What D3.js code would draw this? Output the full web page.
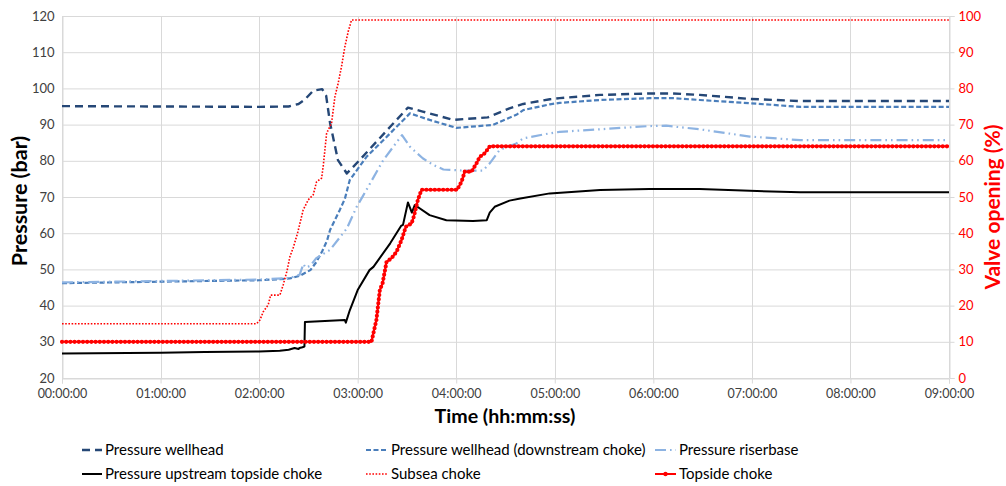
<!DOCTYPE html>
<html><head><meta charset="utf-8">
<script src="https://cdn.jsdelivr.net/npm/d3@7"></script>
<style>
body{margin:0;background:#fff;}
svg{display:block;font-family:Lato,"Liberation Sans",sans-serif;}
</style></head><body>
<svg id="c" width="1006" height="486"></svg>
<script>
// ---------- data (time in hours, pressure in bar, valve opening in %) ----------
const xTickValues = [0,1,2,3,4,5,6,7,8,9];
const xTickLabels = ["00:00:00","01:00:00","02:00:00","03:00:00","04:00:00","05:00:00","06:00:00","07:00:00","08:00:00","09:00:00"];
const leftTicks = [20,30,40,50,60,70,80,90,100,110,120];
const rightTicks = [0,10,20,30,40,50,60,70,80,90,100];

const pressureWellhead = [[0,95.1],[1,95.0],[2,94.9],[2.30,95.0],[2.40,95.7],[2.46,96.8],[2.55,99.4],[2.64,99.8],[2.68,98.0],[2.72,90.4],[2.80,80.2],[2.89,76.5],[3.02,80.2],[3.33,89.4],[3.51,94.7],[3.66,93.6],[3.97,91.3],[4.32,92.0],[4.54,94.5],[4.68,95.7],[4.95,97.0],[5.05,97.3],[5.46,98.2],[5.96,98.6],[6.20,98.6],[6.47,98.2],[6.98,97.1],[7.49,96.5],[9,96.5]];
const pressureWellheadDown = [[0,46.2],[1,46.6],[1.45,46.8],[2.0,47.0],[2.21,47.3],[2.31,47.5],[2.41,48.2],[2.52,49.8],[2.58,52.0],[2.64,55.0],[2.69,58.0],[2.72,60.9],[2.82,66.5],[2.87,69.5],[2.92,74.7],[3.09,81.1],[3.33,87.6],[3.53,93.1],[3.73,91.3],[4.00,89.1],[4.37,89.9],[4.61,92.7],[4.68,94.0],[4.95,95.6],[5.05,96.0],[5.46,96.8],[5.96,97.3],[6.20,97.3],[6.47,96.8],[6.98,95.9],[7.49,94.9],[9,94.9]];
const pressureRiserbase = [[0,46.4],[1,46.8],[2.0,47.2],[2.31,47.6],[2.41,48.5],[2.45,51.5],[2.47,50.5],[2.52,51.0],[2.58,53.1],[2.72,55.4],[2.89,61.3],[2.99,67.3],[3.05,70.1],[3.26,80.2],[3.45,87.1],[3.53,83.9],[3.66,80.7],[3.77,78.8],[3.87,77.6],[4.07,77.3],[4.27,77.3],[4.34,79.3],[4.44,83.0],[4.61,84.8],[4.68,86.2],[4.95,87.6],[5.05,88.0],[5.46,88.7],[5.96,89.6],[6.13,89.7],[6.47,88.7],[6.98,86.7],[7.49,85.7],[9,85.7]];
const pressureUpstreamTopside = [[0,26.8],[1,27.0],[1.45,27.2],[2.0,27.3],[2.21,27.5],[2.30,27.8],[2.36,28.3],[2.40,28.0],[2.41,28.3],[2.44,28.5],[2.46,28.7],[2.465,35.5],[2.87,36.0],[2.88,35.3],[2.92,38.7],[3.00,44.3],[3.12,49.8],[3.16,50.7],[3.33,57.2],[3.44,62.0],[3.46,62.3],[3.51,68.5],[3.55,65.7],[3.58,67.8],[3.73,65.0],[3.90,63.6],[4.17,63.4],[4.31,63.6],[4.34,65.7],[4.39,67.3],[4.54,69.0],[4.65,69.6],[4.95,71.0],[5.46,71.9],[5.96,72.2],[6.47,72.2],[6.98,71.7],[7.49,71.3],[9,71.3]];
const subseaChoke = [[0,15],[1.975,15],[2.008,16],[2.042,18.3],[2.092,20.2],[2.117,22.9],[2.211,22.9],[2.244,25.7],[2.285,29.8],[2.312,33.5],[2.346,36.0],[2.39,40.0],[2.447,46.4],[2.498,49.2],[2.549,50.6],[2.583,54.2],[2.634,55.2],[2.65,58.4],[2.685,67.6],[2.735,70.4],[2.769,77.7],[2.802,81.4],[2.836,86.0],[2.87,91.5],[2.904,95.7],[2.938,98.9],[9,98.9]];
const topsideChoke = [[0,10],[3.14,10],[3.19,16],[3.225,24.3],[3.253,26.2],[3.293,32.1],[3.344,33.1],[3.395,34.9],[3.445,38.1],[3.489,41.8],[3.547,42.7],[3.57,44.6],[3.611,49.2],[3.648,52],[4.009,52],[4.054,54.2],[4.087,57.0],[4.155,57.0],[4.206,59.3],[4.239,61.1],[4.29,62.1],[4.341,64],[9,64]];

const seriesNames = ["Pressure wellhead","Pressure wellhead (downstream choke)","Pressure riserbase","Pressure upstream topside choke","Subsea choke","Topside choke"];

// ---------- chart ----------
const svg = d3.select("#c");
const L = 62, R = 949, T = 16, B = 378;
const x = d3.scaleLinear().domain([0,9]).range([L,R]);
const yL = d3.scaleLinear().domain([20,120]).range([B,T]);
const yR = d3.scaleLinear().domain([0,100]).range([B,T]);
const grid = "#d9d9d9";

// grid
svg.append("g").selectAll("line").data(leftTicks).join("line")
  .attr("x1",L).attr("x2",R).attr("y1",d=>yL(d)+0.5).attr("y2",d=>yL(d)+0.5)
  .attr("stroke",grid).attr("stroke-width",1);
svg.append("g").selectAll("line").data(xTickValues).join("line")
  .attr("x1",d=>Math.round(x(d))+0.5).attr("x2",d=>Math.round(x(d))+0.5).attr("y1",T).attr("y2",B)
  .attr("stroke",grid).attr("stroke-width",1);

// axes
const ax = d3.axisBottom(x).tickValues(xTickValues).tickFormat((d,i)=>xTickLabels[i]).tickSize(5).tickPadding(6);
const gx = svg.append("g").attr("transform",`translate(0,${B+0.5})`).call(ax);
gx.select(".domain").attr("stroke",grid);
gx.selectAll(".tick line").attr("stroke",grid);
gx.selectAll("text").attr("font-size",12.5).attr("fill","#404040").attr("font-family","Lato");

const ayl = d3.axisLeft(yL).tickValues(leftTicks).tickSize(0).tickPadding(8);
const gyl = svg.append("g").attr("transform",`translate(${L+0.5},0)`).call(ayl);
gyl.select(".domain").attr("stroke",grid);
gyl.selectAll("text").attr("font-size",13).attr("fill","#404040").attr("font-family","Lato");

const ayr = d3.axisRight(yR).tickValues(rightTicks).tickSize(5).tickPadding(4);
const gyr = svg.append("g").attr("transform",`translate(${R+0.5},0)`).call(ayr);
gyr.select(".domain").attr("stroke",grid);
gyr.selectAll(".tick line").attr("stroke",grid);
gyr.selectAll("text").attr("font-size",13).attr("fill","#ff0000").attr("font-family","Lato");

// titles
svg.append("text").attr("x",505).attr("y",423).attr("text-anchor","middle")
  .attr("font-size",19.6).attr("font-weight","bold").attr("fill","#000").text("Time (hh:mm:ss)");
svg.append("text").attr("transform","translate(27,201) rotate(-90)").attr("text-anchor","middle")
  .attr("font-size",21.5).attr("font-weight","bold").attr("fill","#000").text("Pressure (bar)");
svg.append("text").attr("transform","translate(1000,207) rotate(-90)").attr("text-anchor","middle")
  .attr("font-size",21).attr("font-weight","bold").attr("fill","#ff0000").text("Valve opening (%)");

// series
const lineL = d3.line().x(d=>x(d[0])).y(d=>yL(d[1]));
const lineR = d3.line().x(d=>x(d[0])).y(d=>yR(d[1]));
const styles = [
  {data:pressureWellhead, line:lineL, color:"#254776", w:2.4, dash:"8 5"},
  {data:pressureWellheadDown, line:lineL, color:"#4a7ebb", w:2.2, dash:"5 2.5"},
  {data:pressureRiserbase, line:lineL, color:"#8db3e2", w:2.2, dash:"11 4 1.6 4 1.6 4"},
  {data:pressureUpstreamTopside, line:lineL, color:"#000000", w:2, dash:null},
  {data:subseaChoke, line:lineR, color:"#ff0000", w:1.6, dash:"1.6 1.6"},
  {data:topsideChoke, line:lineR, color:"#ff0000", w:2, dash:null, beads:true}
];
styles.forEach(s=>{
  svg.append("path").attr("d",s.line(s.data)).attr("fill","none")
    .attr("stroke",s.color).attr("stroke-width",s.w).attr("stroke-dasharray",s.dash)
    .attr("stroke-linejoin","round");
  if(s.beads){
    svg.append("path").attr("d",s.line(s.data)).attr("fill","none")
      .attr("stroke",s.color).attr("stroke-width",4.2).attr("stroke-dasharray","0 4.2")
      .attr("stroke-linecap","round");
  }
});

// legend
const legX = [82,366,655], legTX = [105,391,679], legY = [450,474];
seriesNames.forEach((name,i)=>{
  const col = i%3, row = Math.floor(i/3), s = styles[i];
  const cy = legY[row];
  const g = svg.append("g");
  const x0 = legX[col], x1 = legTX[col]-3;
  g.append("line").attr("x1",x0).attr("x2",x1).attr("y1",cy).attr("y2",cy)
    .attr("stroke",s.color).attr("stroke-width",s.w).attr("stroke-dasharray",s.dash);
  if(s.beads) g.append("circle").attr("cx",(x0+x1)/2).attr("cy",cy).attr("r",2.2).attr("fill",s.color);
  g.append("text").attr("x",legTX[col]).attr("y",cy+5).attr("font-size",15).attr("fill","#000").text(name);
});
</script>
</body></html>
